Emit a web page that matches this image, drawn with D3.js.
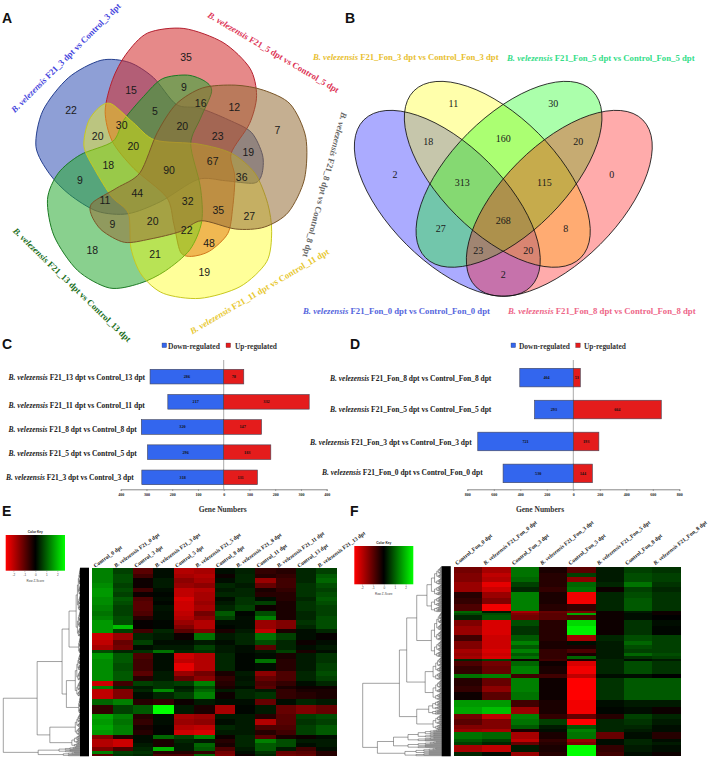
<!DOCTYPE html>
<html><head><meta charset="utf-8">
<script src="https://cdn.jsdelivr.net/npm/d3@7"></script>
<style>html,body{margin:0;padding:0;background:#fff}svg{display:block}</style></head>
<body><svg id="c" width="708" height="761"></svg>
<script>
// ---------- data ----------
const vennALabels = ["B. velezensis F21_3 dpt vs Control_3 dpt","B. velezensis F21_5 dpt vs Control_5 dpt","B. velezensis F21_8 dpt vs Control_8 dpt","B. velezensis F21_11 dpt vs Control_11 dpt","B. velezensis F21_13 dpt vs Control_13 dpt"];
const vennACounts = [22,35,7,19,18,15,12,27,21,9,20,9,19,48,9,30,16,36,22,11,5,23,35,20,18,20,67,32,44,20,90];
const vennBLabels = ["B. velezensis F21_Fon_3 dpt vs Control_Fon_3 dpt","B. velezensis F21_Fon_5 dpt vs Control_Fon_5 dpt","B. velezensis F21_Fon_0 dpt vs Control_Fon_0 dpt","B. velezensis F21_Fon_8 dpt vs Control_Fon_8 dpt"];
const vennBCounts = [2,11,30,0,18,160,20,313,115,27,268,8,23,20,2];

const catC = ["B. velezensis F21_13 dpt vs Control_13 dpt","B. velezensis F21_11 dpt vs Control_11 dpt","B. velezensis F21_8 dpt vs Control_8 dpt","B. velezensis F21_5 dpt vs Control_5 dpt","B. velezensis F21_3 dpt vs Control_3 dpt"];
const downC = [286,217,320,296,318];
const upC = [78,332,147,183,131];
const catD = ["B. velezensis F21_Fon_8 dpt vs Control_Fon_8 dpt","B. velezensis F21_Fon_5 dpt vs Control_Fon_5 dpt","B. velezensis F21_Fon_3 dpt vs Control_Fon_3 dpt","B. velezensis F21_Fon_0 dpt vs Control_Fon_0 dpt"];
const downD = [404,293,721,530];
const upD = [53,664,193,144];
const ticksC = [-400,-300,-200,-100,0,100,200,300,400];
const ticksD = [-800,-600,-400,-200,0,200,400,600,800];

const colsE = ["Control_0 dpt","B. velezensis F21_0 dpt","Control_3 dpt","B. velezensis F21_3 dpt","Control_5 dpt","B. velezensis F21_5 dpt","Control_8 dpt","B. velezensis F21_8 dpt","Control_11 dpt","B. velezensis F21_11 dpt","Control_13 dpt","B. velezensis F21_13 dpt"];
const colsF = ["Control_Fon_0 dpt","B. velezensis F21_Fon_0 dpt","Control_Fon_3 dpt","B. velezensis F21_Fon_3 dpt","Control_Fon_5 dpt","B. velezensis F21_Fon_5 dpt","Control_Fon_8 dpt","B. velezensis F21_Fon_8 dpt"];
// heat bands: [rows, z-score per column]
const heatE = [
[8,1,.5,-.7,.1,-1.4,-1.3,.1,.25,-.4,-.3,.3,.5],
[6,1,.6,-.5,.1,-1.3,-1.4,-.1,.3,-.3,-.4,.3,.7],
[8,1,.6,-.1,.2,-1.1,-1.3,.1,.3,-1.2,-.5,.3,.8],
[8,1.1,.5,-.1,.2,-1.2,-1.1,.3,.2,-.8,-.5,.4,.6],
[6,1.2,.6,-.5,.1,-1.5,-1.4,.2,.3,-.2,-.4,.4,.5],
[8,1.2,.5,-.1,.05,-1.5,-1.3,.3,.3,-.3,-.3,.4,.6],
[6,1.1,.7,-.6,.1,-1.7,-1.3,.1,.4,.1,-.3,.3,.7],
[6,1.1,.6,-.7,.05,-1.6,-1.2,.2,.4,.5,-.2,.4,.6],
[8,1,.5,-.7,.15,-1.6,-1.3,.3,.5,-.1,-.2,.4,.5],
[8,.9,.5,-.6,.1,-1.5,-.9,.7,.05,.6,-.2,.3,.5],
[6,1,.6,-.3,.1,-1.4,-1.1,.5,.1,1,-.2,.3,.6],
[8,1.2,.6,-.05,.05,-1.2,-1.4,.1,.1,-1.2,-1,.4,.6],
[6,1.2,1.5,-.05,.05,-1,-1.4,.05,.1,-1.2,-1,.3,.6],
[6,1.2,.5,-.5,.3,-.7,-1,-.2,.2,-1.5,-.2,.1,.3],
[10,-1.6,-1.2,.3,.2,-.1,.9,.2,.3,.9,.5,.1,-.05],
[8,-1.5,-.8,.5,.1,.1,.2,.1,.3,.6,.3,-.1,.1],
[8,-1.3,-.9,.1,.2,.2,.5,.2,.1,-.7,.3,.1,.2],
[5,.6,.3,.4,.9,.3,.4,.2,.1,.2,.5,-.2,.1],
[8,1.2,.7,-.6,.1,-1.6,-1.4,.3,.05,.1,-.2,.2,.4],
[6,1.1,.7,-.5,.1,-1.5,-1.4,.3,.05,.9,-.3,.2,.4],
[12,1.1,.6,-.5,.1,-1.8,-1.4,.3,.05,.1,-.3,.2,.5],
[8,1.1,.7,-.7,.2,-1.2,-.9,-.2,.2,-1.1,-.6,.3,.6],
[8,1.1,.7,-.3,.2,-.8,-1.1,-.4,.15,-.8,-.6,.3,.5],
[7,-1.6,-.5,.5,.4,.5,1,-.3,.2,-.6,-.4,.1,.3],
[5,1,.3,.2,.4,.2,.6,-.2,.1,-.7,-.2,-.1,-.1],
[5,-1.5,-1,.3,1.1,.3,.8,.2,.3,.2,-.4,-.2,-.2],
[10,-1.5,-1,.1,.3,.5,1,-.1,.3,.4,-.4,-.3,-.2],
[9,.8,1,-.3,-.4,-.1,.2,.1,.1,-.8,.1,.3,.2],
[14,-.4,.5,.7,2,.2,-.2,-1.3,.05,.2,-.8,-1,-.8],
[8,1.3,1,-.3,.1,-1.3,-1.2,.2,.2,-.3,-.7,.5,.6],
[9,1.2,.9,-.4,.1,-1.2,-1.1,.1,.2,-1.4,-.7,.4,.5],
[7,1.3,1,-.2,.05,-1.4,-1.5,.3,.2,-.6,-.6,.5,.7],
[7,1.2,1,-.3,.05,-1.6,-1.7,.2,.2,-.3,-.5,.5,.7],
[7,-1,-.3,.1,.8,.5,1,-.1,.3,-.7,-.2,-.1,.1],
[6,-1.4,-1.6,.1,-.2,.3,.2,-.3,.3,1,.6,.2,.2],
[6,-1.4,-1.6,.2,-.2,.2,.8,-.2,.3,.7,.6,.1,.2],
[6,-1,-.6,.3,1.4,.2,.7,-.6,.2,.7,.2,-.5,.1],
[4,1,.5,.4,-.3,-.3,-.4,-.9,.1,.4,-.8,-.7,-.3],
[3,-.7,.4,.3,-.6,-.6,.8,-1,-.1,.3,-.9,-.8,-.3]];
const heatF = [
[10,-.9,-1.3,.9,-.2,-.7,.2,.5,.4],
[5,-1,-1.5,.9,-.3,.5,.2,.6,.5],
[8,-1,-1.4,.8,-.3,-1.1,.2,.6,.5],
[8,-1.2,-1.8,.5,-.3,.8,.3,.9,.4],
[8,-1.2,-1.6,.3,-.4,.9,-.1,.5,.3],
[9,-.3,-1.2,1,-.2,-1.9,.3,.6,.4],
[9,-.4,-1,1,-.2,-1.9,.3,.7,.4],
[10,-.6,-1.9,1,-.3,-.4,.3,.7,.4],
[3,.8,.2,-1.3,-.8,-1,-.1,.2,-.1],
[3,.6,.6,-1,-.7,1.3,-.1,.1,-.1],
[8,.3,.7,-.9,-.7,-.6,-.1,.1,0],
[8,-1,-1.7,.6,-.3,1.7,-.1,.4,.1],
[14,-1.2,-1.7,.4,-.3,1.9,-.1,.4,.05],
[10,-.5,-1.6,.7,-.3,-1.3,.3,.6,.5],
[6,-1,-1.6,1,-.2,.1,.2,.8,.5],
[5,-1,-1.6,.7,-.2,-.2,.2,.6,.5],
[6,-1.3,-1.7,1,-.4,-.6,.2,.5,.5],
[5,-1.2,-1.6,.7,-.4,-.2,.2,.8,.6],
[4,-1.3,-1.7,.9,-.4,.8,.2,.4,.5],
[3,.3,.5,-.1,-.5,-.2,.3,.1,.2],
[9,-.6,-.9,.8,-.1,-1.7,.3,.6,.4],
[12,-.4,-.8,1,-.2,-1.9,.3,.6,.4],
[5,.9,1,-.5,-.5,-1.5,.1,.1,0],
[12,-.3,-.8,1,-.1,-2,.4,.7,.7],
[10,-.4,-1.1,1,-.1,-2,.4,.7,.7],
[11,-.1,-.7,.9,-.1,-2,.4,.7,.7],
[11,1.2,1.2,-.5,-.2,-1.9,.1,.2,.2],
[11,1.3,1.5,-1.2,-.2,-1.9,.05,.1,-.1],
[8,-.9,-1.5,1,-.4,-.8,-.3,.5,.3],
[8,-.7,-1,.9,.5,-2,.3,.4,.2],
[6,-1,-1,.7,.2,.7,.3,.3,.1],
[5,-1.2,-1.3,-.2,.1,1,.3,.2,.1],
[10,.9,.8,-1.3,-.2,.9,-.8,.1,-.3],
[5,.7,.5,-1.5,-.4,-1.2,.1,.3,.1],
[5,.5,.3,-.8,-.3,-1,.1,.3,.2],
[11,-1.3,-1.5,.2,-.2,2,-.4,.2,.1],
[5,.3,.1,-1.2,-.3,2,-.5,.1,-.1]];
// dendrogram sketches: [merge height, child, child]; a plain number is a leaf count
const treeE = [1,[.605,[.314,[.233,[.15,103],[.12,25]],[.264,[.16,65],[.12,26]]],[.457,[.16,32],[.2,18]]],[.593,[.35,8],[.3,6]]];
const treeF = [1,[.583,[.5,[.386,[.27,68],[.22,67]],[.29,[.2,34],[.2,30]]],[.386,[.25,22],[.2,22]]],[.833,[.65,28],[.52,12]]];

// ---------- layout ----------
const svg = d3.select("#c");
const serif = "'Liberation Serif','Times New Roman',serif";
const sans = "'Liberation Sans',Arial,sans-serif";

function richText(parent, str, x, y, o = {}) {
  const t = parent.append("text").attr("x", x).attr("y", y)
    .attr("font-family", o.family || serif).attr("font-weight", o.weight || "bold")
    .attr("font-size", o.size || 9).attr("fill", o.fill || "#222")
    .attr("text-anchor", o.anchor || "start");
  if (o.rotate !== undefined) t.attr("transform", `rotate(${o.rotate} ${x} ${y})`);
  const m = str.match(/^(B\. velezensis)(.*)$/);
  if (m) { t.append("tspan").attr("font-style", "italic").text(m[1]); t.append("tspan").text(m[2]); }
  else t.text(str);
  if (o.fit) { const l = t.node().getComputedTextLength(); t.attr("font-size", (o.size || 9) * o.fit / l); }
  return t;
}
// panel letters
[["A",2,23],["B",345,23],["C",2,348.5],["D",350,348.5],["E",2,516],["F",350,516]].forEach(d =>
  svg.append("text").attr("x", d[1]).attr("y", d[2]).attr("font-family", sans).attr("font-weight", "bold")
     .attr("font-size", 14).attr("fill", "#111").text(d[0]));

// ---------- Venn A : one petal rotated five times ----------
const petal = [[335,312],[400,368],[465,420],[595,432],[695,460],[765,520],[803,610],[815,695],[800,785],[720,860],[600,895],[490,880],[425,825],[393,745],[385,640],[335,590],[285,510],[252,440],[265,365],[300,320]];
const cA = [170, 166.7];
const petalColors = [["#ffff00","#c8c820",0,.4],["#28aa32","#1c7a24",72,.55],["#3250b4","#26408f",144,.55],["#d22828","#b42030",216,.55],["#966e37","#7a5628",288,.55]];
const line = d3.line().curve(d3.curveCardinalClosed.tension(0.15));
const gA = svg.append("g").attr("transform", `translate(${cA})`);
[2,3,1,0,4].forEach(i => {
  const [f, s, a, op] = petalColors[i];
  const r = a * Math.PI / 180;
  const pts = petal.map(([x, y]) => { const X = (x - 510) / 3, Y = (y - 500) / 3; return [X * Math.cos(r) - Y * Math.sin(r), X * Math.sin(r) + Y * Math.cos(r)]; });
  gA.append("path").attr("d", line(pts)).attr("fill", f).attr("fill-opacity", op).attr("stroke", s).attr("stroke-width", 1);
});
const anchorsA = [[213,330],[558,172],[832,392],[613,818],[277,750],[393,272],[703,323],[748,650],[465,762],[240,540],[293,408],[552,262],[745,457],[627,730],[337,672],[365,375],[602,310],[725,532],[560,692],[315,600],[465,333],[653,408],[655,630],[458,665],[325,497],[400,438],[638,483],[563,603],[412,580],[547,378],[507,510]];
svg.append("g").selectAll("text").data(vennACounts).join("text")
  .attr("x", (d,i) => anchorsA[i][0]/3).attr("y", (d,i) => anchorsA[i][1]/3).attr("dy", ".36em")
  .attr("text-anchor", "middle").attr("font-family", sans).attr("font-size", 10.5).attr("fill", "#1a1a1a").text(d => d);
richText(svg, vennALabels[0], 68, 60, {anchor:"middle", rotate:-45, fill:"#4444dd", fit:151});
richText(svg, vennALabels[1], 272, 55, {anchor:"middle", rotate:30.5, fill:"#dd3355", fit:151});
richText(svg, vennALabels[2], 322, 184, {anchor:"middle", rotate:105, fill:"#666", fit:150});
richText(svg, vennALabels[3], 261, 294, {anchor:"middle", rotate:-30.5, fill:"#e8c830", fit:160});
richText(svg, vennALabels[4], 70, 287, {anchor:"middle", rotate:44, fill:"#1a6e1a", fit:160});

// ---------- Venn B ----------
const ellipses = [[447.3,203.3,45,"#0000ff"],[497.3,174.3,45,"#ffff00"],[509,174.3,-45,"#00ff00"],[559.3,203.3,-45,"#ff0000"]];
const gB = svg.append("g");
ellipses.forEach(e => gB.append("ellipse").attr("cx", e[0]).attr("cy", e[1]).attr("rx", 118).attr("ry", 58)
  .attr("transform", `rotate(${e[2]} ${e[0]} ${e[1]})`).attr("fill", e[3]).attr("fill-opacity", .33));
ellipses.forEach(e => gB.append("ellipse").attr("cx", e[0]).attr("cy", e[1]).attr("rx", 118).attr("ry", 58)
  .attr("transform", `rotate(${e[2]} ${e[0]} ${e[1]})`).attr("fill", "none").attr("stroke", "#111").attr("stroke-width", .8));
const anchorsB = [[165,523],[340,311],[640,311],[815,523],[265,423],[490,415],[715,423],[367,548],[613,548],[302,685],[490,660],[677,685],[415,750],[565,750],[490,823]];
svg.append("g").selectAll("text").data(vennBCounts).join("text")
  .attr("x", (d,i) => 340 + anchorsB[i][0]/3).attr("y", (d,i) => anchorsB[i][1]/3).attr("dy", ".36em")
  .attr("text-anchor", "middle").attr("font-family", serif).attr("font-size", 10).attr("fill", "#1a1a1a").text(d => d);
richText(svg, vennBLabels[0], 313, 60, {fill:"#e8c030", fit:186});
richText(svg, vennBLabels[1], 507, 61, {fill:"#33dd88", fit:188});
richText(svg, vennBLabels[2], 303, 314, {fill:"#5566dd", fit:187});
richText(svg, vennBLabels[3], 508, 314, {fill:"#ee6688", fit:188});

// ---------- diverging bars ----------
function bars(o) {
  const x = d3.scaleLinear().domain([o.ticks[0], o.ticks[o.ticks.length-1]]).range(o.xr);
  const y = d3.scaleBand().domain(o.cats).range(o.yr).paddingInner(.418);
  const g = svg.append("g");
  g.append("line").attr("x1", x(0)).attr("x2", x(0)).attr("y1", o.vTop).attr("y2", o.axisY).attr("stroke", "#aaa").attr("stroke-width", 1);
  o.cats.forEach((c, i) => {
    [[-o.down[i], "#3366ee", o.down[i]], [o.up[i], "#e41c1c", o.up[i]]].forEach(([v, col, lab]) => {
      const x0 = Math.min(x(0), x(v)), w = Math.abs(x(v) - x(0));
      g.append("rect").attr("x", x0).attr("y", y(c)).attr("width", w).attr("height", y.bandwidth())
        .attr("fill", col).attr("stroke", "#445").attr("stroke-width", .6);
      g.append("text").attr("x", x0 + w/2).attr("y", y(c) + y.bandwidth()/2).attr("dy", ".35em").attr("text-anchor", "middle")
        .attr("font-family", serif).attr("font-weight", "bold").attr("font-size", 4.2).attr("fill", "#111").text(lab);
    });
    richText(svg, c, o.labX[i], o.labY[i], {fit:o.labW[i], fill:"#222"});
  });
  const ax = g.append("g").attr("transform", `translate(0,${o.axisY})`)
    .call(d3.axisBottom(x).tickValues(o.ticks).tickSize(1.5).tickPadding(2).tickFormat(d => Math.abs(d)));
  ax.select(".domain").attr("stroke", "#888").attr("stroke-width", 1);
  ax.selectAll(".tick line").attr("stroke", "#888");
  ax.selectAll("text").attr("font-family", serif).attr("font-weight", "bold").attr("font-size", 4).attr("fill", "#222");
  richText(svg, "Gene Numbers", o.titleX, 512, {anchor:"middle", size:7.5, fill:"#333"});
  o.legend.forEach(l => {
    svg.append("rect").attr("x", l[0]).attr("y", 343).attr("width", 4.6).attr("height", 4.6).attr("fill", l[3]).attr("stroke", "#334").attr("stroke-width", .3);
    richText(svg, l[4], l[1], 348.5, {fit:l[2], fill:"#333"});
  });
}
bars({cats:catC, down:downC, up:upC, ticks:ticksC, xr:[120.7,326.7], yr:[369.3,484.7], axisY:489.3, vTop:360,
  labX:[8.5,8.5,8.5,8.5,6], labY:[380,408,432,456,480], labW:[137,136.5,128.5,128.5,128], titleX:222.7,
  legend:[[162,168,52,"#3366ee","Down-regulated"],[226,235,42,"#e41c1c","Up-regulated"]]});
bars({cats:catD, down:downD, up:upD, ticks:ticksD, xr:[467.3,679.3], yr:[368.3,482.7], axisY:489.3, vTop:360,
  labX:[330,330,310,322], labY:[381,412,445,475], labW:[161.7,161.7,162,160.7], titleX:540,
  legend:[[511,519,51,"#3366ee","Down-regulated"],[575.7,584,42,"#e41c1c","Up-regulated"]]});

// ---------- heatmaps ----------
const heatColor = d3.scaleLinear().domain([-2,0,2]).range(["#ff0000","#000000","#00ff00"]).clamp(true);
function expand(n, h) {
  if (Array.isArray(n)) return {h:n[0], children:n.slice(1).map(k => expand(k, n[0]))};
  if (n <= 1) return {h:0};
  const a = Math.max(1, Math.min(n - 1, Math.ceil(n * .62))), ch = .1 + (h - .1) * .7;
  return {h:h, children:[expand(a, ch), expand(n - a, ch)]};
}
function heatmap(o) {
  const x = d3.scaleBand().domain(o.cols).range(o.xr);
  const total = d3.sum(o.bands, b => b[0]);
  const y = d3.scaleLinear().domain([0,total]).range(o.yr);
  const g = svg.append("g").attr("shape-rendering", "crispEdges");
  let acc = 0;
  o.bands.forEach(b => {
    o.cols.forEach((c, j) => g.append("rect").attr("x", x(c)).attr("y", y(acc)).attr("width", x.bandwidth()+.4).attr("height", y(acc+b[0]) - y(acc) + .4).attr("fill", heatColor(b[j+1])));
    acc += b[0];
  });
  o.cols.forEach((c, j) => richText(svg, c, x(c) + o.labDx, o.yr[0] - o.labDy, {rotate:-o.labAngle, size:o.labSize, fill:"#222"}));
  // dendrogram
  const root = d3.hierarchy(expand(o.tree, 1));
  const dx = d3.scaleLinear().domain([1,0]).range(o.dxr);
  const leaves = root.leaves();
  const ly = d3.scaleLinear().domain([0, leaves.length-1]).range(o.yr);
  leaves.forEach((l, i) => l.py = ly(i));
  root.eachAfter(n => { if (n.children) n.py = d3.mean(n.children, k => k.py); n.px = dx(n.data.h); });
  let dp = "", blk = "";
  root.each(n => {
    if (!n.children) return;
    dp += `M${n.px},${n.children[0].py}V${n.children[n.children.length-1].py}`;
    n.children.forEach(k => { dp += `M${n.px},${k.py}H${k.px}`; });
  });
  svg.append("path").attr("d", dp).attr("fill", "none").attr("stroke", "#444").attr("stroke-width", .5);
  leaves.forEach(l => { blk += `M${o.dxr[1]-o.fringe},${l.py}H${o.dxr[1]}`; });
  svg.append("path").attr("d", blk).attr("fill", "none").attr("stroke", "#000").attr("stroke-width", 1.1);
  // colour key
  const kx = d3.scaleLinear().domain([-2.7,2.7]).range(o.key.xr);
  const id = "grad" + o.key.id;
  const grad = svg.append("defs").append("linearGradient").attr("id", id);
  [-2,-1,0,1,2].forEach(v => grad.append("stop").attr("offset", (v+2)/4).attr("stop-color", heatColor(v)));
  svg.append("rect").attr("x", o.key.xr[0]).attr("y", o.key.yr[0]).attr("width", o.key.xr[1]-o.key.xr[0]).attr("height", o.key.yr[1]-o.key.yr[0]).attr("fill", `url(#${id})`);
  const kax = svg.append("g").attr("transform", `translate(0,${o.key.yr[1]})`)
    .call(d3.axisBottom(kx).tickValues([-2,-1,0,1,2]).tickSize(1.5).tickPadding(1.5).tickFormat(d => d));
  kax.select(".domain").remove();
  kax.selectAll(".tick line").attr("stroke", "#777").attr("stroke-width", .4);
  kax.selectAll("text").attr("font-family", sans).attr("font-size", 3).attr("fill", "#444");
  const kc = (o.key.xr[0]+o.key.xr[1])/2;
  svg.append("text").attr("x", kc).attr("y", o.key.yr[0]-2.5).attr("text-anchor", "middle").attr("font-family", sans).attr("font-weight", "bold").attr("font-size", 3.2).attr("fill", "#222").text("Color Key");
  svg.append("text").attr("x", kc).attr("y", o.key.yr[1]+11).attr("text-anchor", "middle").attr("font-family", sans).attr("font-size", 3).attr("fill", "#444").text("Row Z-Score");
}
heatmap({cols:colsE, bands:heatE, tree:treeE, xr:[92.3,336.7], yr:[568.3,755.7], dxr:[3.3,89], fringe:9,
  labDx:3, labDy:.5, labAngle:36, labSize:5.6, key:{id:"E", xr:[5.7,65], yr:[535,570.7]}});
heatmap({cols:colsF, bands:heatF, tree:treeF, xr:[454,680.7], yr:[566.7,755.7], dxr:[362.7,450.7], fringe:9,
  labDx:3, labDy:1.5, labAngle:39, labSize:5.6, key:{id:"F", xr:[354.3,413.3], yr:[546,584.3]}});
</script></body></html>
